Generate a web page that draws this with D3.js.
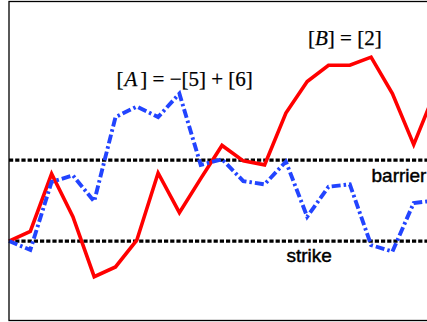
<!DOCTYPE html>
<meta charset="utf-8">
<head>
    <script src="https://d3js.org/d3.v7.min.js"></script>
    <style>
        body { margin: 0; background: white; }
        svg { display: block; }
        .math { font-family: "Liberation Serif", serif; font-size: 21px; fill: black; stroke: black; stroke-width: 0.25px; }
        .lbl { font-family: "Liberation Sans", Arial, sans-serif; font-size: 19px; fill: black; stroke: black; stroke-width: 0.45px; }
    </style>
</head>
<body>
<div id="chart"></div>
<script>
    // step index for both paths
    var steps = d3.range(0, 21);
    // red path (B)
    var redValues = [100, 101.2, 108.3, 103.0, 95.6, 96.8, 100.1, 108.4, 103.5, 107.7,
        111.8, 109.9, 109.4, 115.8, 119.7, 121.7, 121.7, 122.7, 118.2, 111.9, 118.4];
    // blue dash-dot path (A)
    var blueValues = [100, 98.9, 107.3, 108.1, 104.9, 115.3, 116.6, 115.3, 118.2, 109.4,
        110.1, 107.4, 107.0, 109.8, 103.0, 106.7, 107.0, 99.5, 98.7, 104.7, 105.0];
    var strike = 100;
    var barrier = 110;

    var width = 427, height = 322;
    var margin = {top: 1.5, left: 9, bottom: 1.5};
    var plotRight = 456;

    var svg = d3.select("#chart").append("svg")
        .attr("width", width)
        .attr("height", height);

    var x = d3.scaleLinear()
        .domain([0, 21])
        .range([margin.left, margin.left + 21.3 * 21]);

    var y = d3.scaleLinear()
        .domain([90.19, 129.57])
        .range([height - margin.bottom, margin.top]);

    // strike and barrier levels
    [strike, barrier].forEach(function(v) {
        svg.append("line")
            .attr("x1", margin.left)
            .attr("x2", plotRight)
            .attr("y1", y(v))
            .attr("y2", y(v))
            .attr("stroke", "black")
            .attr("stroke-width", 3.3)
            .attr("stroke-dasharray", "4.2,2");
    });

    var line = d3.line()
        .x(function(d, i) { return x(steps[i]); })
        .y(function(d) { return y(d); });

    svg.append("path")
        .datum(redValues)
        .attr("d", line)
        .attr("fill", "none")
        .attr("stroke", "#ff0000")
        .attr("stroke-width", 3.6)
        .attr("stroke-linejoin", "miter");

    svg.append("path")
        .datum(blueValues)
        .attr("d", line)
        .attr("fill", "none")
        .attr("stroke", "#2244ff")
        .attr("stroke-width", 3.9)
        .attr("stroke-dasharray", "9,3,2.5,3");

    // frame
    svg.append("rect")
        .attr("x", margin.left)
        .attr("y", margin.top)
        .attr("width", plotRight - margin.left)
        .attr("height", height - margin.top - margin.bottom)
        .attr("fill", "none")
        .attr("stroke", "black")
        .attr("stroke-width", 1.3);

    // annotations
    var tA = svg.append("text").attr("class", "math").attr("x", 116.5).attr("y", 86);
    tA.append("tspan").text("[");
    tA.append("tspan").attr("font-style", "italic").attr("dx", 1).text("A");
    tA.append("tspan").attr("dx", 3).text("] = \u2212[5] + [6]");

    var tB = svg.append("text").attr("class", "math").attr("x", 308).attr("y", 44.5);
    tB.append("tspan").text("[");
    tB.append("tspan").attr("font-style", "italic").text("B");
    tB.append("tspan").text("] = [2]");

    svg.append("text").attr("class", "lbl").attr("x", 371.5).attr("y", 182).text("barrier");
    svg.append("text").attr("class", "lbl").attr("x", 286.5).attr("y", 262).text("strike");
</script>
</body>
</html>
